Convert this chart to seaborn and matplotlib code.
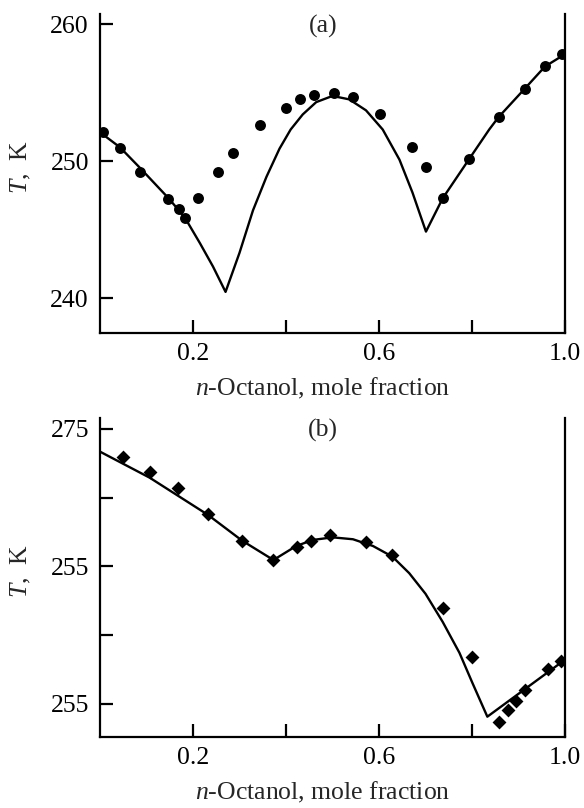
import matplotlib
matplotlib.use("Agg")
import matplotlib.pyplot as plt
import pandas as pd
import seaborn as sns

# ---- Panel (a) data ----
xa_pts = [0.007, 0.043, 0.087, 0.147, 0.170, 0.183, 0.211, 0.253, 0.286, 0.345,
          0.400, 0.430, 0.461, 0.503, 0.545, 0.603, 0.670, 0.702, 0.737, 0.793,
          0.857, 0.914, 0.957, 0.994]
ya_pts = [252.14, 250.97, 249.22, 247.2, 246.52, 245.86, 247.32, 249.22, 250.56, 252.63,
          253.9, 254.5, 254.8, 254.94, 254.67, 253.43, 251.04, 249.58, 247.28, 250.15,
          253.23, 255.28, 256.93, 257.79]
xa_line = [0.0, 0.043, 0.086, 0.147, 0.182, 0.215, 0.243, 0.270, 0.300, 0.329,
           0.358, 0.386, 0.410, 0.436, 0.465, 0.500, 0.536, 0.572, 0.608, 0.644,
           0.672, 0.701, 0.737, 0.794, 0.837, 0.857, 0.914, 0.957, 1.0]
ya_line = [252.1, 251.0, 249.5, 247.3, 245.9, 244.0, 242.3, 240.45, 243.3, 246.4,
           248.85, 250.9, 252.3, 253.4, 254.3, 254.75, 254.5, 253.7, 252.3, 250.1,
           247.7, 244.85, 247.28, 250.15, 252.3, 253.2, 255.3, 256.9, 257.8]

# ---- Panel (b) data ----
xb_pts = [0.050, 0.107, 0.168, 0.232, 0.306, 0.373, 0.423, 0.454, 0.494, 0.573,
          0.629, 0.737, 0.801, 0.857, 0.877, 0.894, 0.913, 0.963, 0.992]
yb_pts = [272.98, 271.87, 270.70, 268.81, 266.84, 265.46, 266.43, 266.84, 267.26, 266.75,
          265.82, 262.0, 258.4, 253.64, 254.53, 255.19, 255.99, 257.54, 258.1]
xb_line = [0.0, 0.107, 0.232, 0.306, 0.373, 0.422, 0.458, 0.500, 0.544, 0.587,
           0.629, 0.665, 0.700, 0.737, 0.773, 0.801, 0.833, 1.0]
yb_line = [273.35, 271.45, 268.75, 266.86, 265.46, 266.48, 266.92, 267.11, 266.97, 266.48,
           265.70, 264.5, 263.0, 260.95, 258.7, 256.5, 254.05, 258.2]

x_ticks = [0.2, 0.4, 0.6, 0.8, 1.0]
x_ticklabels = ["0.2", "", "0.6", "", "1.0"]
ya_ticks = [240, 250, 260]
ya_ticklabels = ["240", "250", "260"]
yb_ticks = [255, 260, 265, 270, 275]
yb_ticklabels = ["255", "", "255", "", "275"]

sns.set_theme(style="ticks")
plt.rcParams['font.family'] = ['Liberation Serif', 'DejaVu Serif']
plt.rcParams['mathtext.fontset'] = 'custom'
plt.rcParams['mathtext.rm'] = 'Liberation Serif'
plt.rcParams['mathtext.it'] = 'Liberation Serif:italic'

fig = plt.figure(figsize=(5.84, 8.08), dpi=100)
axa = fig.add_axes([100/584, 1-333/808, 465/584, 319/808])
axb = fig.add_axes([100/584, 1-737/808, 465/584, 319/808])

FS = 18.5


def style(ax, yticks, yticklabels, ylim, tag):
    ax.set_xlim(0, 1.0)
    ax.set_ylim(*ylim)
    ax.set_xticks(x_ticks)
    ax.set_xticklabels(x_ticklabels)
    ax.set_yticks(yticks)
    ax.set_yticklabels(yticklabels)
    ax.spines['top'].set_visible(False)
    for s in ['left', 'right', 'bottom']:
        ax.spines[s].set_linewidth(1.6)
        ax.spines[s].set_color('black')
    ax.tick_params(direction='in', length=9.5, width=1.6, labelsize=FS,
                   colors='black', pad=7)
    ax.tick_params(axis='y', pad=8)
    ax.set_xlabel(r"$n$-Octanol, mole fraction", fontsize=FS)
    ax.set_ylabel(r"$T$,  K", fontsize=FS)
    ax.xaxis.set_label_coords(0.478, -0.135)
    ax.yaxis.set_label_coords(-0.145, 0.52)
    ax.text(0.48, 0.962, tag, transform=ax.transAxes, ha='center', va='center',
            fontsize=FS)


da_l = pd.DataFrame({"x": xa_line, "T": ya_line})
da_p = pd.DataFrame({"x": xa_pts, "T": ya_pts})
sns.lineplot(data=da_l, x="x", y="T", sort=False, estimator=None, color='black',
             linewidth=1.7, ax=axa)
sns.scatterplot(data=da_p, x="x", y="T", color='black', marker='o', s=62,
                edgecolor='black', linewidth=0, ax=axa, zorder=3)
style(axa, ya_ticks, ya_ticklabels, (237.45, 260.73), "(a)")

db_l = pd.DataFrame({"x": xb_line, "T": yb_line})
db_p = pd.DataFrame({"x": xb_pts, "T": yb_pts})
sns.lineplot(data=db_l, x="x", y="T", sort=False, estimator=None, color='black',
             linewidth=1.7, ax=axb)
sns.scatterplot(data=db_p, x="x", y="T", color='black', marker='D', s=50,
                edgecolor='black', linewidth=0, ax=axb, zorder=3)
style(axb, yb_ticks, yb_ticklabels, (252.57, 275.8), "(b)")

fig.savefig("out.png", dpi=100)
